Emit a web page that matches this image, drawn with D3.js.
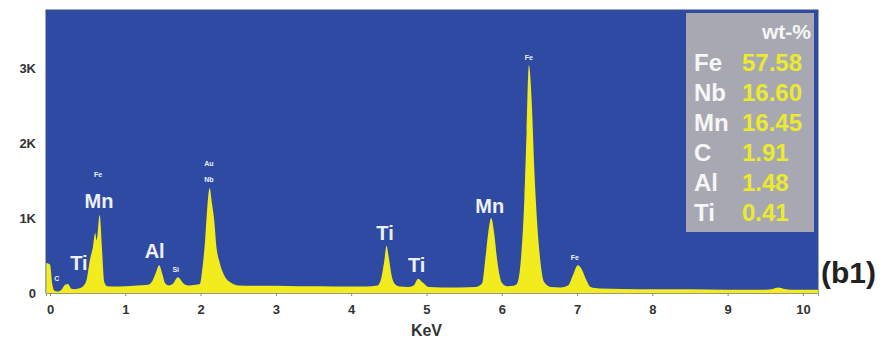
<!DOCTYPE html>
<html>
<head>
<meta charset="utf-8">
<script src="https://cdn.jsdelivr.net/npm/d3@7"></script>
<style>
  body { margin: 0; background: #fff; }
  text { font-family: "Liberation Sans", Arial, sans-serif; font-weight: bold; }
</style>
</head>
<body>
<div id="vis"></div>
<script>
// spectrum (keV, counts)
const energy = [-0.05, 0.0, 0.03, 0.06, 0.1, 0.15, 0.2, 0.24, 0.28, 0.32, 0.38, 0.44, 0.49, 0.53, 0.57, 0.6, 0.62, 0.66, 0.69, 0.72, 0.76, 0.85,
  1.0, 1.15, 1.3, 1.36, 1.41, 1.45, 1.49, 1.53, 1.58, 1.63, 1.7, 1.77, 1.84, 1.93, 1.99, 2.03, 2.06, 2.09, 2.12, 2.15, 2.18, 2.21, 2.25, 2.29,
  2.34, 2.4, 2.5, 2.7, 3.0, 3.3, 3.6, 3.9, 4.2, 4.35, 4.4, 4.44, 4.47, 4.5, 4.54, 4.59, 4.65, 4.75, 4.83, 4.89, 4.95, 5.03, 5.2, 5.45, 5.65,
  5.74, 5.78, 5.82, 5.86, 5.9, 5.94, 6.0, 6.07, 6.15, 6.2, 6.25, 6.3, 6.33, 6.36, 6.4, 6.43, 6.46, 6.51, 6.56, 6.65, 6.78, 6.88, 6.95,
  7.01, 7.06, 7.12, 7.18, 7.3, 7.6, 8.0, 8.5, 9.0, 9.5, 9.6, 9.67, 9.75, 9.85, 10.2];
const counts = [400, 380, 120, 30, 20, 40, 110, 120, 60, 50, 60, 90, 190, 440, 610, 800, 700, 1040, 600, 150, 90, 85,
  90, 100, 110, 160, 280, 370, 260, 130, 100, 120, 210, 130, 100, 110, 120, 380, 700, 1150, 1400, 1200, 980, 620, 420, 290,
  190, 140, 100, 95, 95, 90, 90, 85, 85, 100, 200, 430, 630, 470, 220, 110, 85, 80, 100, 190, 140, 80, 75, 75, 80,
  130, 440, 800, 1000, 790, 430, 140, 90, 95, 120, 400, 1250, 2150, 3040, 2500, 1700, 1100, 450, 150, 80, 75, 100, 250,
  370, 320, 180, 80, 60, 55, 50, 50, 45, 45, 55, 75, 55, 45, 45];

// peak annotations: text, keV, counts (baseline of the text)
const peakText = ["Mn", "Fe", "Ti", "C", "Al", "Si", "Au", "Nb", "Ti", "Ti", "Mn", "Fe", "Fe"];
const peakE = [0.65, 0.64, 0.385, 0.09, 1.39, 1.67, 2.11, 2.11, 4.45, 4.87, 5.84, 6.36, 6.97];
const peakC = [1133, 1547, 307, 160, 467, 280, 1693, 1480, 707, 280, 1067, 3107, 440];
const peakBig = [true, false, true, false, true, false, false, false, true, true, true, false, false];

// composition table
const elements = ["Fe", "Nb", "Mn", "C", "Al", "Ti"];
const wtPercent = ["57.58", "16.60", "16.45", "1.91", "1.48", "0.41"];

const xTicks = [0, 1, 2, 3, 4, 5, 6, 7, 8, 9, 10];
const yTicks = [0, 1000, 2000, 3000];
const yTickLabels = ["0", "1K", "2K", "3K"];

let svg = d3.select("#vis").append("svg").attr("width", 885).attr("height", 343);

let plotL = 46, plotR = 818, plotT = 10, plotB = 293;

let x = d3.scaleLinear().domain([-0.053, 10.2]).range([plotL, plotR]);
let y = d3.scaleLinear().domain([0, 3773]).range([plotB, plotT]);

// plot background
svg.append("rect")
  .attr("x", plotL).attr("y", plotT)
  .attr("width", plotR - plotL).attr("height", plotB - plotT)
  .attr("fill", "#2e4aa2")
  .attr("stroke", "#3b4f86")
  .attr("stroke-width", 1);

// spectrum
let data = energy.map((e, i) => [e, counts[i]]);
let area = d3.area()
  .x(d => x(d[0]))
  .y0(y(0))
  .y1(d => y(d[1]))
  .curve(d3.curveMonotoneX);

svg.append("path")
  .datum(data)
  .attr("d", area)
  .attr("fill", "#f2ec1e");

// axes
let xAxis = svg.append("g")
  .attr("transform", "translate(0," + plotB + ")")
  .call(d3.axisBottom(x).tickValues(xTicks).tickSize(3).tickPadding(9));
xAxis.select(".domain").attr("stroke", "#9a9a80");
xAxis.selectAll("line").attr("stroke", "#888");
xAxis.selectAll("text").attr("font-size", 13).attr("fill", "#333");

let yAxis = svg.append("g")
  .attr("transform", "translate(" + plotL + ",0)")
  .call(d3.axisLeft(y).tickValues(yTicks).tickFormat((d, i) => yTickLabels[i]).tickSize(0).tickPadding(10));
yAxis.select(".domain").remove();
yAxis.selectAll("text").attr("font-size", 13).attr("fill", "#333");

svg.append("text")
  .attr("x", x(5)).attr("y", 336)
  .attr("text-anchor", "middle")
  .attr("font-size", 16).attr("fill", "#333")
  .text("KeV");

// peak labels
peakText.forEach((t, i) => {
  svg.append("text")
    .attr("x", x(peakE[i])).attr("y", y(peakC[i]))
    .attr("text-anchor", "middle")
    .attr("font-size", peakBig[i] ? 20 : 7)
    .attr("fill", "#eef0f8")
    .text(t);
});

// wt-% box
let boxX = 686, boxY = 13;
svg.append("rect")
  .attr("x", boxX).attr("y", boxY)
  .attr("width", 814 - boxX).attr("height", 232 - boxY)
  .attr("fill", "#a8a8b2");

svg.append("text")
  .attr("x", 811).attr("y", 39)
  .attr("text-anchor", "end")
  .attr("font-size", 21).attr("fill", "#f6f6f6")
  .text("wt-%");

elements.forEach((el, i) => {
  svg.append("text")
    .attr("x", 694).attr("y", 71 + i * 30)
    .attr("font-size", 24).attr("fill", "#f6f6f6")
    .text(el);
  svg.append("text")
    .attr("x", 742).attr("y", 71 + i * 30)
    .attr("font-size", 24).attr("fill", "#ecea2c")
    .text(wtPercent[i]);
});

// panel tag
svg.append("text")
  .attr("x", 821).attr("y", 283)
  .attr("font-size", 30).attr("fill", "#222")
  .text("(b1)");
</script>
</body>
</html>
